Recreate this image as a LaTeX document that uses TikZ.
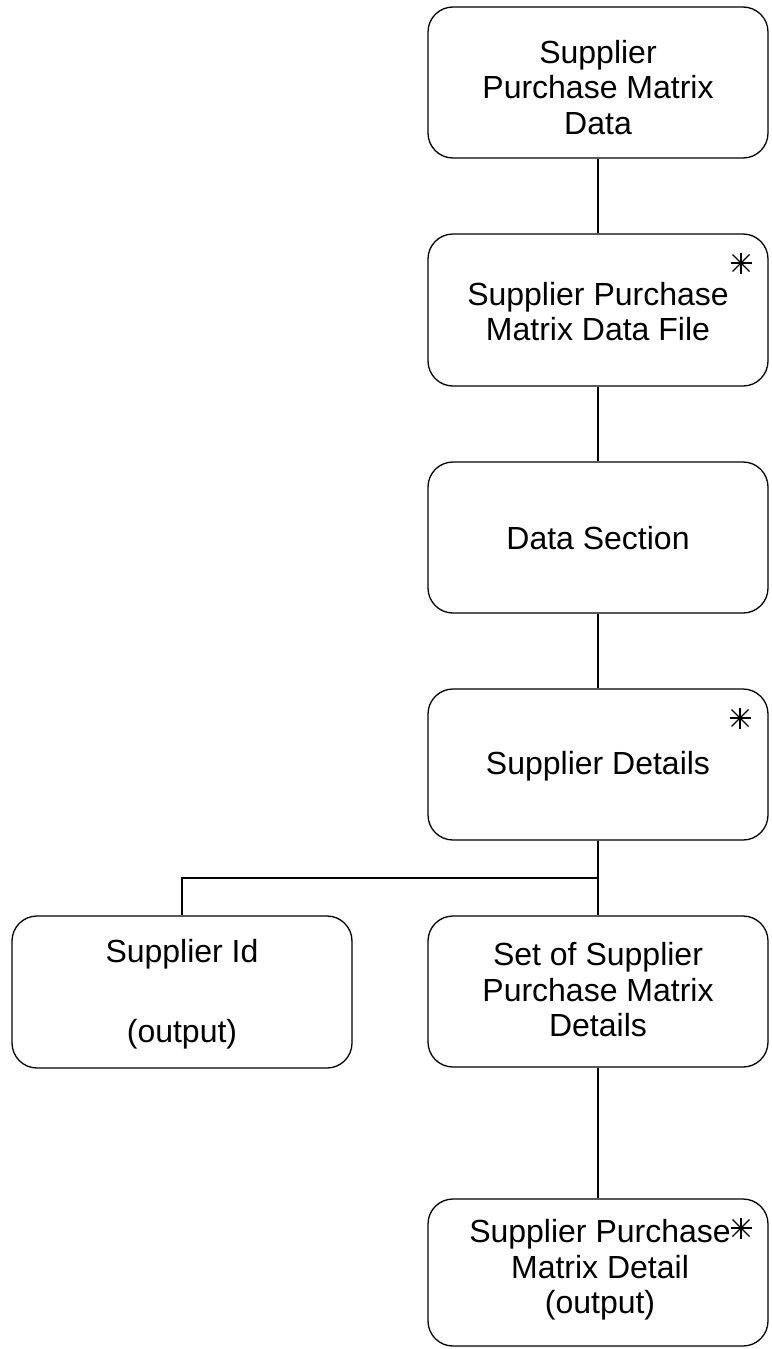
\documentclass[tikz,border=0pt]{standalone}
\usepackage{fontspec}
\setmainfont{Liberation Sans}
\usetikzlibrary{calc}
\begin{document}
\begin{tikzpicture}[x=1pt,y=-1pt,
  boxnode/.style={draw=black, line width=1.3pt, rounded corners=25pt, minimum width=340pt, minimum height=151pt, inner sep=0pt},
  txt/.style={align=center, font=\fontsize{32}{35.5}\selectfont, inner sep=0pt},
  conn/.style={draw=black, line width=1.3pt},
  starline/.style={draw=black, line width=1.2pt}]
\useasboundingbox (0,0) rectangle (771,1349);
\newcommand\mystar[1]{%
  \draw[starline] ($(#1)+(0,-10.5)$) -- ($(#1)+(0,10.5)$);
  \draw[starline] ($(#1)+(-10.5,0)$) -- ($(#1)+(10.5,0)$);
  \draw[starline] ($(#1)+(-8.5,-8.5)$) -- ($(#1)+(8.5,8.5)$);
  \draw[starline] ($(#1)+(-8.5,8.5)$) -- ($(#1)+(8.5,-8.5)$);}
% boxes
\node[boxnode] (b1) at (598,82.5) {};
\node[boxnode, minimum height=152pt] (b2) at (598,310) {};
\node[boxnode] (b3) at (598,537.5) {};
\node[boxnode] (b4) at (598,764.5) {};
\node[boxnode, minimum height=152pt] (b5) at (182,992) {};
\node[boxnode] (b6) at (598,991.5) {};
\node[boxnode, minimum height=147pt] (b7) at (598,1272.5) {};
% texts
\node[txt] (t1) at (598,87.5) {Supplier\\Purchase Matrix\\Data};
\node[txt] (t2) at (598,311.5) {Supplier Purchase\\Matrix Data File};
\node[txt] (t3) at (598,538) {Data Section};
\node[txt] (t4) at (598,766) {Supplier Details};
\node[txt] (t5) at (182,994) {Supplier Id\\[44pt](output)};
\node[txt] (t6) at (598,990) {Set of Supplier\\Purchase Matrix\\Details};
\node[txt] (t7) at (600,1270) {Supplier Purchase\\Matrix Detail\\(output)};
% stars
\coordinate (s2) at (741,263);
\coordinate (s4) at (740,718);
\coordinate (s7) at (741,1228);
\mystar{s2}
\mystar{s4}
\mystar{s7}
% connectors
\coordinate (j) at (598,878);
\draw[conn] (b1.south) -- (b2.north);
\draw[conn] (b2.south) -- (b3.north);
\draw[conn] (b3.south) -- (b4.north);
\draw[conn] (b4.south) -- (b6.north);
\draw[conn] (j) -| (b5.north);
\draw[conn] (b6.south) -- (b7.north);
\end{tikzpicture}
\end{document}
